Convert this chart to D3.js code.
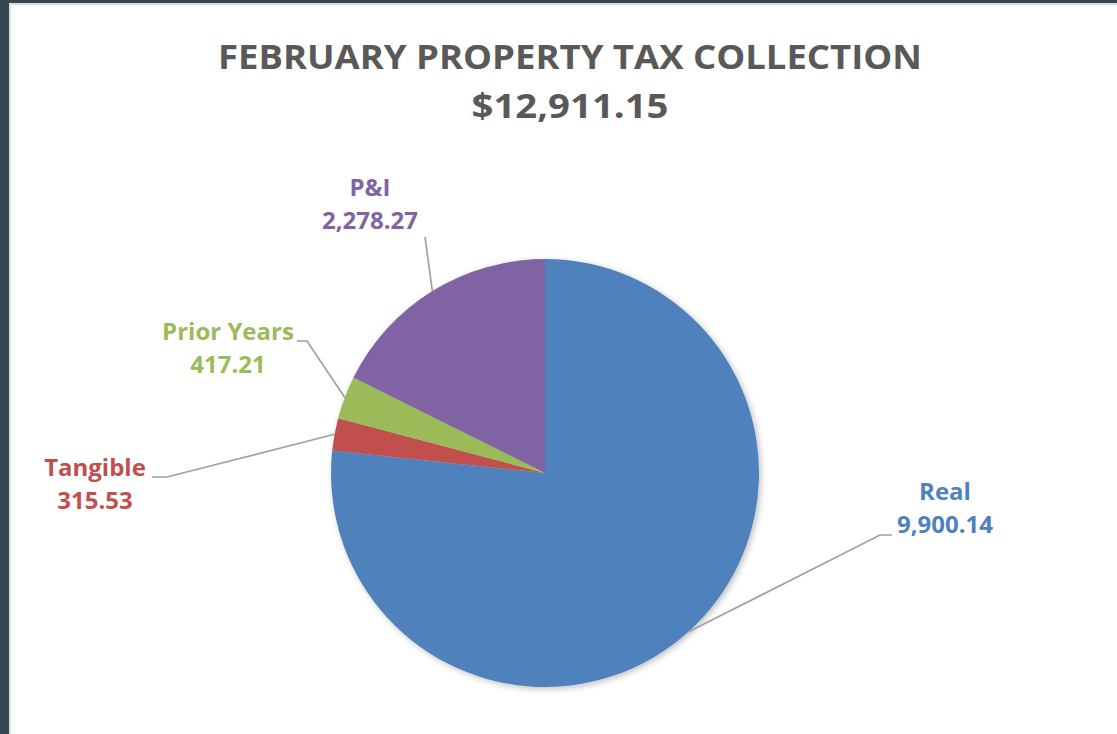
<!DOCTYPE html>
<html lang="en">
<head>
<meta charset="UTF-8">
<title>February property tax collection</title>
<script src="https://d3js.org/d3.v7.min.js"></script>
<style>
  html, body { margin: 0; padding: 0; background: #34464f; }
  svg { display: block; }
</style>
</head>
<body>
<svg width="1117" height="734"></svg>
<script>
    // data
    const categories = ['Real', 'Tangible', 'Prior Years', 'P&I'];
    const amounts = [9900.14, 315.53, 417.21, 2278.27];
    const colors = ['#4f81bd', '#c0504d', '#9bbb59', '#8064a2'];
    const titleLines = ['FEBRUARY PROPERTY TAX COLLECTION', '$12,911.15'];

    const width = 1117, height = 734;
    const center = [545, 473];
    const radius = 214;

    // where Excel put each label (text centre x, first baseline) and the leader elbow
    const labelLayout = {
        'Real':        {x: 945, y: 500, elbow: [880, 535], end: [892, 535]},
        'Tangible':    {x: 95,  y: 476, elbow: [167, 477], end: [152, 477]},
        'Prior Years': {x: 228, y: 340, elbow: [307, 341], end: [297, 341]},
        'P&I':         {x: 370, y: 196, elbow: [425, 237], end: null}
    };

    const fmt = d3.format(',.2f');
    const svg = d3.select('svg');

    // white chart area with thin grey edge
    svg.append('rect')
        .attr('x', 9).attr('y', 3)
        .attr('width', width - 9).attr('height', height - 3)
        .attr('fill', '#dcdcdc');
    svg.append('rect')
        .attr('x', 11).attr('y', 5)
        .attr('width', width - 11).attr('height', height - 5)
        .attr('fill', '#ffffff');

    // title
    svg.selectAll('text.title')
        .data(titleLines)
        .enter().append('text')
        .attr('class', 'title')
        .attr('x', 570)
        .attr('y', (d, i) => 69 + i * 49)
        .attr('text-anchor', 'middle')
        .attr('font-family', '"Open Sans", sans-serif')
        .attr('font-weight', 700)
        .attr('font-size', 34)
        .attr('fill', '#595959')
        .attr('textLength', (d, i) => i === 0 ? 704 : 197)
        .attr('lengthAdjust', 'spacingAndGlyphs')
        .text(d => d);

    const defs = svg.append('defs');
    const shadow = defs.append('filter').attr('id', 'shadow')
        .attr('x', '-10%').attr('y', '-10%').attr('width', '120%').attr('height', '120%');
    shadow.append('feDropShadow')
        .attr('dx', 2).attr('dy', 2).attr('stdDeviation', 3)
        .attr('flood-color', '#000').attr('flood-opacity', 0.25);

    const data = categories.map((c, i) => ({name: c, value: amounts[i], color: colors[i]}));

    const pie = d3.pie().sort(null).value(d => d.value);
    const arc = d3.arc().innerRadius(0).outerRadius(radius);
    const edge = d3.arc().innerRadius(radius).outerRadius(radius);
    const arcs = pie(data);

    const g = svg.append('g')
        .attr('transform', 'translate(' + center + ')');

    g.append('g')
        .attr('filter', 'url(#shadow)')
        .selectAll('path')
        .data(arcs)
        .enter().append('path')
        .attr('d', arc)
        .attr('fill', d => d.data.color);

    // leader lines
    svg.selectAll('polyline.leader')
        .data(arcs)
        .enter().append('polyline')
        .attr('class', 'leader')
        .attr('fill', 'none')
        .attr('stroke', '#a0a0a0')
        .attr('stroke-width', 1.7)
        .attr('points', d => {
            const p = edge.centroid(d);
            const L = labelLayout[d.data.name];
            const pts = [[p[0] + center[0], p[1] + center[1]], L.elbow];
            if (L.end) pts.push(L.end);
            return pts.map(q => q.join(',')).join(' ');
        });

    // labels
    const labels = svg.selectAll('text.label')
        .data(arcs)
        .enter().append('text')
        .attr('class', 'label')
        .attr('text-anchor', 'middle')
        .attr('font-family', '"Open Sans", sans-serif')
        .attr('font-weight', 700)
        .attr('font-size', 24)
        .attr('fill', d => d.data.color);

    labels.append('tspan')
        .attr('x', d => labelLayout[d.data.name].x)
        .attr('y', d => labelLayout[d.data.name].y)
        .text(d => d.data.name);
    labels.append('tspan')
        .attr('x', d => labelLayout[d.data.name].x)
        .attr('y', d => labelLayout[d.data.name].y + 33)
        .text(d => fmt(d.data.value));
</script>
</body>
</html>
